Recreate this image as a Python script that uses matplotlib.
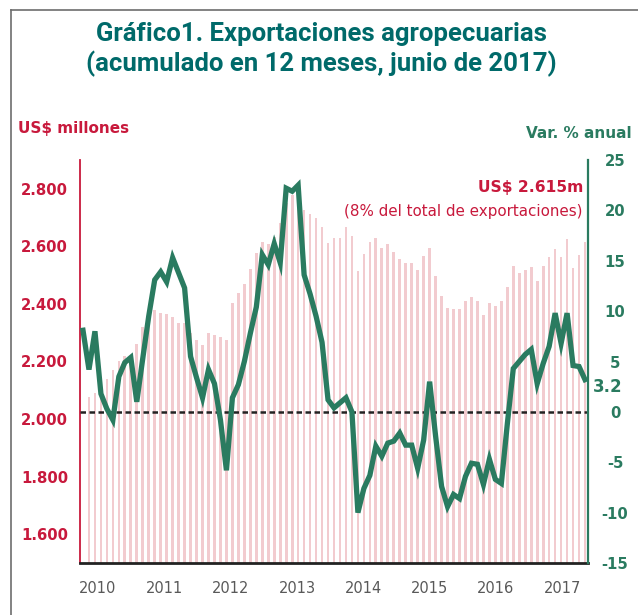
import numpy as np
import matplotlib.pyplot as plt
from matplotlib.ticker import FuncFormatter
from matplotlib.lines import Line2D

# Exportaciones agropecuarias, acumulado 12 meses (US$ millones)
exports = [
    np.nan, 2077, 2091, 2110, 2140, 2170, 2200, 2220, 2210, 2260,
    2320, 2350, 2380, 2368, 2365, 2355, 2334, 2334, 2300, 2275,
    2257, 2299, 2292, 2285, 2275, 2403, 2438, 2469, 2521, 2577,
    2615, 2608, 2633, 2680, 2750, 2780, 2760, 2726, 2712, 2699,
    2667, 2612, 2629, 2629, 2668, 2637, 2514, 2573, 2615, 2630,
    2594, 2608, 2581, 2556, 2542, 2542, 2518, 2567, 2594, 2498,
    2428, 2386, 2382, 2382, 2411, 2425, 2411, 2362, 2404, 2394,
    2411, 2460, 2532, 2507, 2518, 2528, 2480, 2532, 2564, 2590,
    2562, 2625, 2524, 2570, 2615,
]
# Var. % anual
growth = [
    8.1, 4.2, 8.0, 1.8, 0.3, -0.8, 3.5, 4.9, 5.4, 1.0,
    5.3, 9.5, 13.1, 13.9, 12.9, 15.3, 13.8, 12.3, 5.5, 3.4,
    1.4, 4.2, 2.8, -0.8, -5.8, 1.4, 2.7, 5.0, 7.8, 10.4,
    15.6, 14.6, 16.7, 14.8, 22.2, 21.9, 22.5, 13.6, 11.7, 9.5,
    6.9, 1.2, 0.4, 0.9, 1.4, 0.0, -10.0, -7.6, -6.3, -3.4,
    -4.4, -3.1, -2.9, -2.1, -3.3, -3.3, -5.6, -2.8, 3.0, -2.4,
    -7.4, -9.4, -8.2, -8.6, -6.4, -5.1, -5.2, -7.2, -4.7, -6.7,
    -7.1, -1.2, 4.3, 5.0, 5.7, 6.2, 2.8, 4.8, 6.5, 9.8,
    6.8, 9.8, 4.6, 4.5, 3.2,
]
years = ["2010", "2011", "2012", "2013", "2014", "2015", "2016", "2017"]
share_note = "(8% del total de exportaciones)"

RED = "#c8193c"
GREEN = "#2a7b60"
TEAL = "#006a6a"
PINK = "#f2cbcf"
GRAY = "#595959"
TITLE_FONT = ["Roboto", "DejaVu Sans"]

plt.rcParams["axes.unicode_minus"] = False

W, H = 638, 615
fig = plt.figure(figsize=(W / 100, H / 100), dpi=100)
ax = fig.add_axes([80 / W, 52 / H, 508 / W, 403 / H])

x = np.arange(len(exports))
ax.bar(x, exports, width=0.45, color=PINK, zorder=1)
ax.set_xlim(-0.5, len(x) - 0.5)
ax.set_ylim(1500, 2900)
ax.set_yticks(range(1600, 2801, 200))
ax.yaxis.set_major_formatter(FuncFormatter(lambda v, p: f"{v:,.0f}".replace(",", ".")))
ax.tick_params(axis="y", length=0, pad=8.6, labelsize=10.7, labelcolor=RED)
for lbl in ax.get_yticklabels():
    lbl.set_fontweight("bold")

# year labels are spaced the way the source chart spaces them
ax.set_xticks(np.linspace(2.5, 80.2, len(years)), years)
ax.tick_params(axis="x", length=0, pad=13, labelsize=10.5, labelcolor=GRAY)

ax.spines["top"].set_visible(False)
ax.spines["right"].set_visible(False)
ax.spines["left"].set_color(RED)
ax.spines["left"].set_linewidth(1.3)
ax.spines["bottom"].set_color("#222222")
ax.spines["bottom"].set_linewidth(2)

ax2 = ax.twinx()
ax2.axhline(0, color="#222222", lw=1.8, ls=(0, (2.2, 1.4)), zorder=2)
ax2.plot(x, growth, color=GREEN, lw=3.8, solid_joinstyle="miter", zorder=3)
ax2.set_ylim(-15, 25)
ax2.set_yticks(range(-15, 26, 5))
ax2.tick_params(axis="y", length=0, pad=19.5, labelsize=10.7, labelcolor=GREEN)
for lbl in ax2.get_yticklabels():
    lbl.set_fontweight("bold")
    lbl.set_horizontalalignment("center")
for side in ["top", "left", "bottom"]:
    ax2.spines[side].set_visible(False)
ax2.spines["right"].set_color(GREEN)
ax2.spines["right"].set_linewidth(1.6)

ax2.annotate(f"{growth[-1]:.1f}", xy=(x[-1], growth[-1]), xytext=(16, -5),
             textcoords="offset points", ha="center", va="center",
             fontsize=12, fontweight="bold", color=GREEN, annotation_clip=False)

ax.text(0.990, 0.933, f"US$ {exports[-1]:,.0f}m".replace(",", "."), transform=ax.transAxes,
        ha="right", va="center", fontsize=11.2, fontweight="bold", color=RED)
ax.text(0.990, 0.871, share_note, transform=ax.transAxes,
        ha="right", va="center", fontsize=10.9, color=RED)

fig.text(18 / W, 1 - 128 / H, "US$ millones", ha="left", va="center",
         fontsize=11, fontweight="bold", color=RED)
fig.text(632 / W, 1 - 133 / H, "Var. % anual", ha="right", va="center",
         fontsize=11, fontweight="bold", color=GREEN)

fig.text(321 / W, 1 - 34 / H, "Gráfico1. Exportaciones agropecuarias", ha="center", va="center",
         fontsize=18.5, fontweight="bold", color=TEAL, family=TITLE_FONT)
fig.text(321 / W, 1 - 64 / H, "(acumulado en 12 meses, junio de 2017)", ha="center", va="center",
         fontsize=18.5, fontweight="bold", color=TEAL, family=TITLE_FONT)

# outer frame (left and top edges visible in the source)
fig.add_artist(Line2D([11 / W, 11 / W], [0, 1 - 10 / H], transform=fig.transFigure,
                      color="#6d6d6d", lw=1.2))
fig.add_artist(Line2D([11 / W, 1], [1 - 10 / H, 1 - 10 / H], transform=fig.transFigure,
                      color="#6d6d6d", lw=1.2))

fig.savefig("out.png", dpi=100)
